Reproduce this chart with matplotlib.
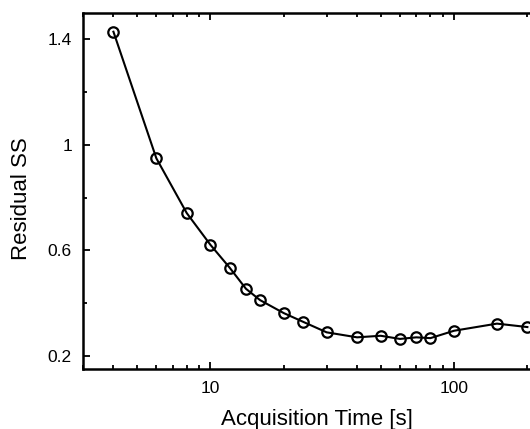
import matplotlib.pyplot as plt
from matplotlib.ticker import FixedLocator, NullFormatter, FuncFormatter

plt.rcParams['font.family'] = ['Liberation Sans', 'DejaVu Sans']

# acquisition time [s] and residual sum of squares
acq_time = [4, 6, 8, 10, 12, 14, 16, 20, 24, 30, 40, 50, 60, 70, 80, 100, 150, 200]
residual_ss = [1.429, 0.949, 0.741, 0.621, 0.534, 0.454, 0.411, 0.362, 0.329,
               0.289, 0.270, 0.276, 0.264, 0.270, 0.267, 0.295, 0.322, 0.309]

y_major = [0.2, 0.6, 1.0, 1.4]
y_minor = [0.4, 0.8, 1.2]
x_major = [10, 100]

fig = plt.figure(figsize=(5.3, 4.29), dpi=100)
ax = fig.add_axes([0.1566, 0.1399, 0.883, 0.8298])

ax.plot(acq_time, residual_ss, color='black', lw=1.5, marker='o', ms=7.5,
        mfc='none', mec='black', mew=1.6, clip_on=False)

ax.set_xscale('log')
ax.set_xlim(3, 250)
ax.set_ylim(0.15, 1.5)

ax.xaxis.set_major_locator(FixedLocator(x_major))
ax.xaxis.set_major_formatter(FuncFormatter(lambda v, p: f"{v:g}"))
minors = [m * d for d in (1, 10, 100) for m in range(2, 10)]
ax.xaxis.set_minor_locator(FixedLocator(minors))
ax.xaxis.set_minor_formatter(NullFormatter())

ax.yaxis.set_major_locator(FixedLocator(y_major))
ax.yaxis.set_major_formatter(FuncFormatter(lambda v, p: f"{v:g}"))
ax.yaxis.set_minor_locator(FixedLocator(y_minor))

for s in ax.spines.values():
    s.set_linewidth(1.8)

ax.tick_params(which='both', direction='in', top=True, right=True,
               labelsize=12.5, width=1.3, color='black')
ax.tick_params(axis='x', pad=9)
ax.tick_params(axis='y', pad=8)
ax.tick_params(which='major', length=5)
ax.tick_params(which='minor', length=3)

ax.set_xlabel("Acquisition Time [s]", fontsize=16, labelpad=9)
ax.set_ylabel("Residual SS", fontsize=16, labelpad=11)
ax.yaxis.label.set_y(0.4775)

fig.savefig("out.png", dpi=100)
